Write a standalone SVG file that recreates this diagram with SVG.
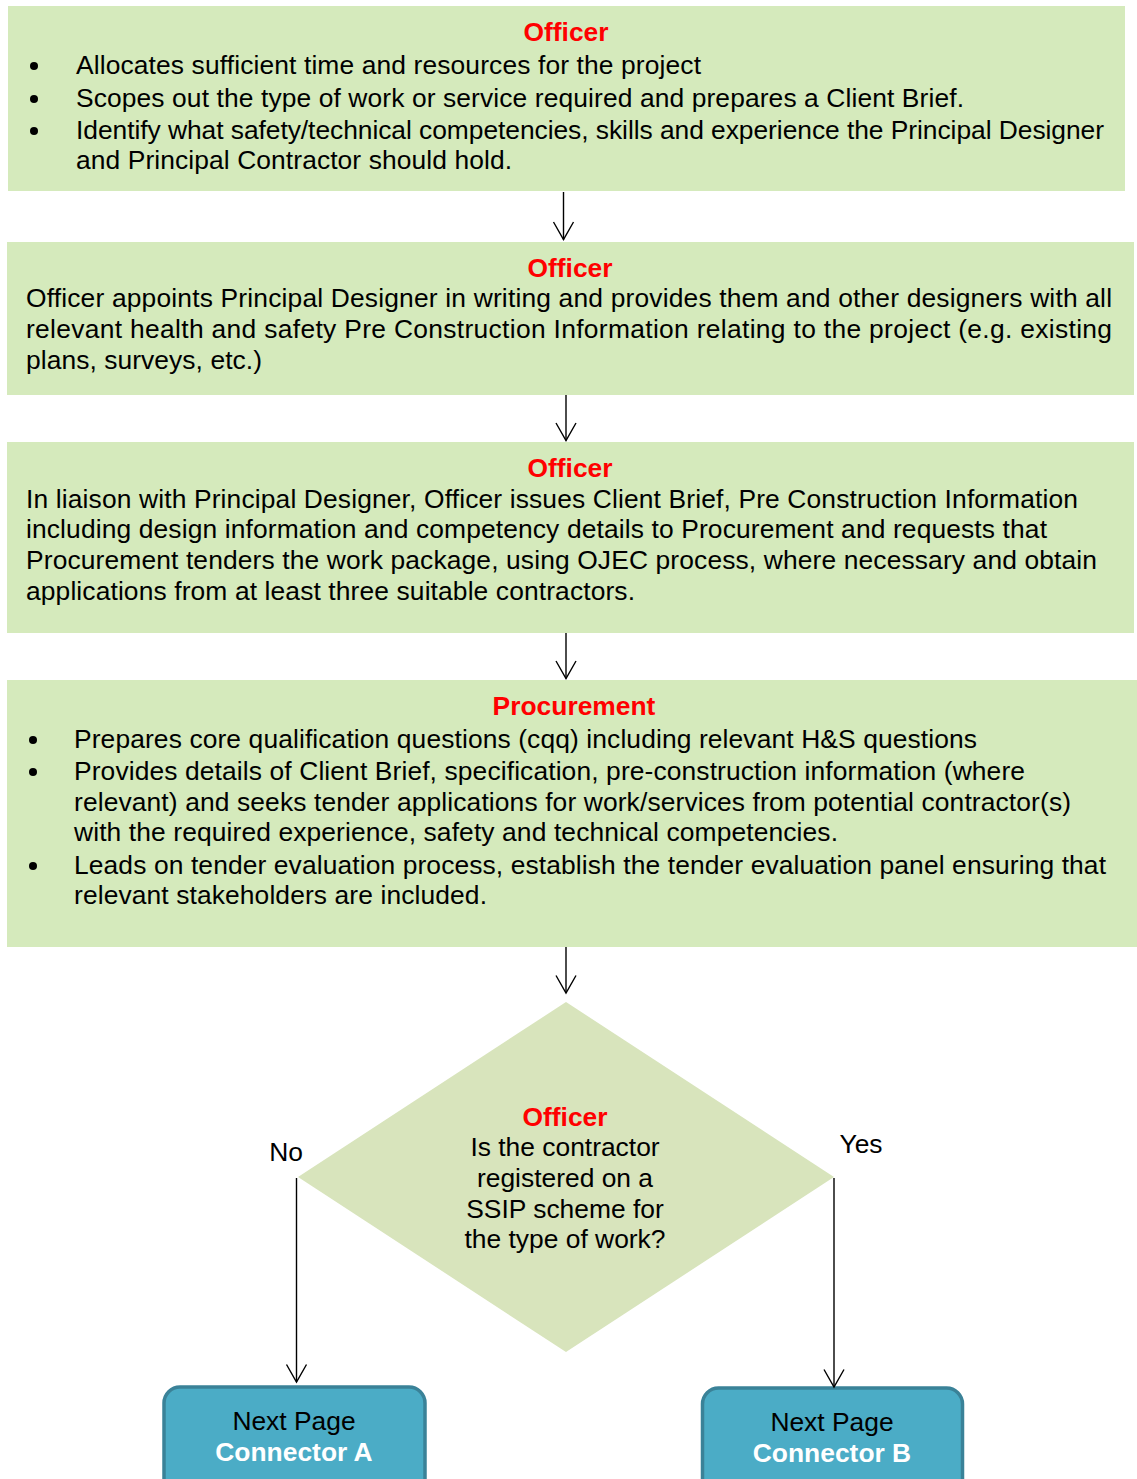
<svg xmlns="http://www.w3.org/2000/svg" width="1137" height="1479" viewBox="0 0 1137 1479">
  <style>
    text { font-family: "Liberation Sans", Arial, sans-serif; font-size: 26.4px; fill: #000; }
    .head { font-weight: bold; fill: #ff0000; text-anchor: middle; }
    .mid { text-anchor: middle; }
    .conn-title { font-weight: bold; fill: #ffffff; text-anchor: middle; }
    .step { fill: #d5eabc; }
    .decision { fill: #d8e4bc; }
    .connector { fill: #4bacc6; stroke: #3a8298; stroke-width: 3.5; }
    .flow { fill: none; stroke: #000; stroke-width: 1.4; marker-end: url(#open-arrow); }
    .bullet { fill: #000; }
  </style>
  <defs>
    <marker id="open-arrow" markerUnits="userSpaceOnUse" orient="auto" refX="0" refY="0" markerWidth="20" markerHeight="24" overflow="visible">
      <path d="M-17.5,-10 L0,0 L-17.5,10" fill="none" stroke="#000" stroke-width="1.4"/>
    </marker>
  </defs>

  <rect width="1137" height="1479" fill="#ffffff"/>

  <!-- Step 1: scoping -->
  <g id="step-scope">
    <rect class="step" x="8" y="6" width="1117" height="185"/>
    <text class="head" x="566" y="41">Officer</text>
    <circle class="bullet" cx="34" cy="66" r="4"/>
    <circle class="bullet" cx="34" cy="99" r="4"/>
    <circle class="bullet" cx="34" cy="131" r="4"/>
    <text x="76" y="74" textLength="625" lengthAdjust="spacing">Allocates sufficient time and resources for the project</text>
    <text x="76" y="107" textLength="888" lengthAdjust="spacing">Scopes out the type of work or service required and prepares a Client Brief.</text>
    <text x="76" y="139" textLength="1028" lengthAdjust="spacing">Identify what safety/technical competencies, skills and experience the Principal Designer</text>
    <text x="76" y="169" textLength="436" lengthAdjust="spacing">and Principal Contractor should hold.</text>
  </g>

  <!-- Step 2: appoint Principal Designer -->
  <g id="step-appoint">
    <rect class="step" x="7" y="242" width="1127" height="153"/>
    <text class="head" x="570" y="277">Officer</text>
    <text x="26" y="307" textLength="1086" lengthAdjust="spacing">Officer appoints Principal Designer in writing and provides them and other designers with all</text>
    <text x="26" y="338" textLength="1086" lengthAdjust="spacing">relevant health and safety Pre Construction Information relating to the project (e.g. existing</text>
    <text x="26" y="369" textLength="236" lengthAdjust="spacing">plans, surveys, etc.)</text>
  </g>

  <!-- Step 3: issue brief to Procurement -->
  <g id="step-issue">
    <rect class="step" x="7" y="442" width="1127" height="191"/>
    <text class="head" x="570" y="477">Officer</text>
    <text x="26" y="508" textLength="1052" lengthAdjust="spacing">In liaison with Principal Designer, Officer issues Client Brief, Pre Construction Information</text>
    <text x="26" y="538" textLength="1021" lengthAdjust="spacing">including design information and competency details to Procurement and requests that</text>
    <text x="26" y="569" textLength="1071" lengthAdjust="spacing">Procurement tenders the work package, using OJEC process, where necessary and obtain</text>
    <text x="26" y="600" textLength="609" lengthAdjust="spacing">applications from at least three suitable contractors.</text>
  </g>

  <!-- Step 4: Procurement tender -->
  <g id="step-procurement">
    <rect class="step" x="7" y="680" width="1130" height="267"/>
    <text class="head" x="574" y="715">Procurement</text>
    <circle class="bullet" cx="33" cy="740" r="4"/>
    <circle class="bullet" cx="33" cy="772" r="4"/>
    <circle class="bullet" cx="33" cy="866" r="4"/>
    <text x="74" y="748" textLength="903" lengthAdjust="spacing">Prepares core qualification questions (cqq) including relevant H&amp;S questions</text>
    <text x="74" y="780" textLength="951" lengthAdjust="spacing">Provides details of Client Brief, specification, pre-construction information (where</text>
    <text x="74" y="811" textLength="997" lengthAdjust="spacing">relevant) and seeks tender applications for work/services from potential contractor(s)</text>
    <text x="74" y="841" textLength="764" lengthAdjust="spacing">with the required experience, safety and technical competencies.</text>
    <text x="74" y="874" textLength="1032" lengthAdjust="spacing">Leads on tender evaluation process, establish the tender evaluation panel ensuring that</text>
    <text x="74" y="904" textLength="413" lengthAdjust="spacing">relevant stakeholders are included.</text>
  </g>

  <!-- Decision: SSIP registration -->
  <g id="decision-ssip">
    <polygon class="decision" points="566,1002 834,1177 566,1352 298,1177"/>
    <text class="head" x="565" y="1126">Officer</text>
    <text class="mid" x="565" y="1156">Is the contractor</text>
    <text class="mid" x="565" y="1187">registered on a</text>
    <text class="mid" x="565" y="1218">SSIP scheme for</text>
    <text class="mid" x="565" y="1248">the type of work?</text>
  </g>

  <!-- Off-page connectors -->
  <g id="connector-a">
    <rect class="connector" x="164" y="1387" width="261" height="120" rx="16" ry="16"/>
    <text class="mid" x="294" y="1430">Next Page</text>
    <text class="conn-title" x="294" y="1461">Connector A</text>
  </g>
  <g id="connector-b">
    <rect class="connector" x="702.5" y="1388" width="260" height="120" rx="16" ry="16"/>
    <text class="mid" x="832" y="1431">Next Page</text>
    <text class="conn-title" x="832" y="1462">Connector B</text>
  </g>

  <!-- Flow lines -->
  <g id="connectors">
    <path class="flow" d="M563.5,192 V239.5"/>
    <path class="flow" d="M566,395 V440.5"/>
    <path class="flow" d="M566,633 V678.5"/>
    <path class="flow" d="M566,947 V993"/>
    <path class="flow" d="M296.5,1178 V1382"/>
    <path class="flow" d="M834,1178 V1387"/>
    <text class="mid" x="286" y="1161">No</text>
    <text class="mid" x="861" y="1153">Yes</text>
  </g>
</svg>
